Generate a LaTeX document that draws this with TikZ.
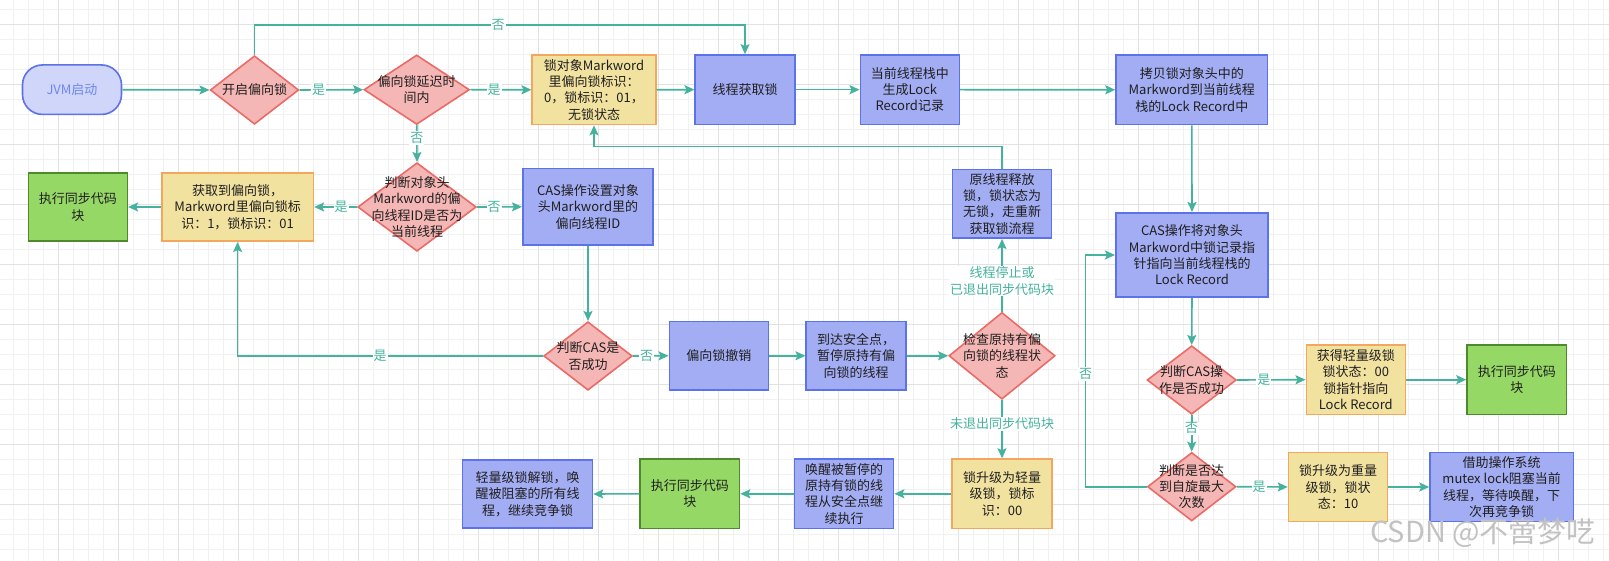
\documentclass[tikz,border=0pt]{standalone}
\usepackage{fontspec}
\newfontfamily\cjk{Noto Sans CJK SC}
\usetikzlibrary{shapes.geometric,arrows.meta}
\definecolor{edgec}{HTML}{45B29D}
\definecolor{dfill}{HTML}{F5B7B5}
\definecolor{dline}{HTML}{EA6B66}
\definecolor{bfill}{HTML}{A3ADF3}
\definecolor{bline}{HTML}{5B72E8}
\definecolor{yfill}{HTML}{F2E2A0}
\definecolor{yline}{HTML}{F2A65E}
\definecolor{gfill}{HTML}{96D865}
\definecolor{gline}{HTML}{4E8A2B}
\definecolor{jfill}{HTML}{D0D6FA}
\definecolor{jtext}{HTML}{6F87EC}
\definecolor{txtc}{HTML}{1F1F1F}
\definecolor{gmin}{HTML}{F1F1F1}
\definecolor{gmaj}{HTML}{E2E2E2}
\definecolor{wmc}{HTML}{C2C2C2}
\tikzset{
  fnt/.style={font=\cjk\fontsize{13}{16.3}\selectfont},
  box/.style={fnt, draw, line width=1.6pt, inner sep=0pt, align=center, text=txtc},
  bluebox/.style={box, fill=bfill, draw=bline},
  yelbox/.style={box, fill=yfill, draw=yline},
  grnbox/.style={box, fill=gfill, draw=gline},
  dia/.style={diamond, draw=dline, fill=dfill, line width=1.6pt, inner sep=0pt},
  dtxt/.style={fnt, align=center, text=txtc, inner sep=0pt},
  lbl/.style={fnt, fill=white, inner sep=1pt, text=edgec, align=center},
  arr/.style={draw=edgec, line width=1.6pt, -{Stealth[length=10pt,width=9pt,inset=2pt]}},
  gridmin/.style={draw=gmin, line width=0.8pt},
  gridmaj/.style={draw=gmaj, line width=0.8pt},
  sz/.style n args={2}{minimum width=#1pt, minimum height=#2pt}
}
\begin{document}
\begin{tikzpicture}[x=1pt,y=-1pt]
\useasboundingbox (0,0) rectangle (1609,561);
\fill[white] (0,0) rectangle (1609,561);
% grid
\foreach \i in {0,...,107} {\draw[gridmin] ({-1.5+15*\i},0) -- ++(0,561);}
\foreach \j in {0,...,37} {\draw[gridmin] (0,{9.3+15*\j}) -- ++(1609,0);}
\foreach \i in {0,...,27} {\draw[gridmaj] ({-1.5+60*\i},0) -- ++(0,561);}
\foreach \j in {0,...,9} {\draw[gridmaj] (0,{24.3+60*\j}) -- ++(1609,0);}

% nodes
\node[box, fill=jfill, draw=bline, text=jtext, rounded corners=20pt, sz={99}{49.5}] (jvm) at (72,89.7) {JVM启动};
\node[dia, sz={88.5}{68.5}] (d1) at (254.5,90) {};
\node[dtxt] (d1t) at (d1) {开启偏向锁};
\node[dia, sz={105.5}{69.5}] (d2) at (416.7,89.7) {};
\node[dtxt] (d2t) at (d2) {偏向锁延迟时\\间内};
\node[yelbox, sz={123.5}{69.5}] (b1) at (594,89.8) {锁对象Markword\\里偏向锁标识：\\0，锁标识：01，\\无锁状态};
\node[bluebox, sz={99.5}{69.5}] (b2) at (745,89.7) {线程获取锁};
\node[bluebox, sz={99}{69.5}] (b3) at (909.8,89.7) {当前线程栈中\\生成Lock\\Record记录};
\node[bluebox, sz={151.5}{69.5}] (b4) at (1191.8,89.8) {拷贝锁对象头中的\\Markword到当前线程\\栈的Lock Record中};

\node[dia, sz={118.5}{88.5}] (d3) at (417,207) {};
\node[dtxt] (d3t) at (d3) {判断对象头\\Markword的偏\\向线程ID是否为\\当前线程};
\node[yelbox, sz={151.5}{68.5}] (b5) at (237.6,207) {获取到偏向锁，\\Markword里偏向锁标\\识：1，锁标识：01};
\node[grnbox, sz={99}{68.5}] (g1) at (77.8,207) {执行同步代码\\块};
\node[bluebox, sz={130.5}{76.5}] (b6) at (588,206.8) {CAS操作设置对象\\头Markword里的\\偏向线程ID};
\node[bluebox, sz={99.2}{68.8}] (b7) at (1002,203.8) {原线程释放\\锁，锁状态为\\无锁，走重新\\获取锁流程};
\node[bluebox, sz={152.5}{84.5}] (b8) at (1192,255) {CAS操作将对象头\\Markword中锁记录指\\针指向当前线程栈的\\Lock Record};

\node[dia, sz={88.5}{68.5}] (d4) at (588,356) {};
\node[dtxt] (d4t) at (d4) {判断CAS是\\否成功};
\node[bluebox, sz={99}{68.5}] (b9) at (718.8,355.8) {偏向锁撤销};
\node[bluebox, sz={99.5}{68.5}] (b10) at (856,355.8) {到达安全点，\\暂停原持有偏\\向锁的线程};
\node[dia, sz={106.2}{86.8}] (d5) at (1002,355.8) {};
\node[dtxt] (d5t) at (d5) {检查原持有偏\\向锁的线程状\\态};

\node[yelbox, sz={99.5}{69.5}] (b11) at (1002,493.8) {锁升级为轻量\\级锁，锁标\\识：00};
\node[bluebox, sz={99.2}{69.5}] (b12) at (844,493.8) {唤醒被暂停的\\原持有锁的线\\程从安全点继\\续执行};
\node[grnbox, sz={99.5}{69.5}] (g2) at (689.8,493.8) {执行同步代码\\块};
\node[bluebox, sz={130}{68.5}] (b13) at (527.5,494) {轻量级锁解锁，唤\\醒被阻塞的所有线\\程，继续竞争锁};

\node[dia, sz={89.2}{68.5}] (d6) at (1191.7,380) {};
\node[dtxt] (d6t) at (d6) {判断CAS操\\作是否成功};
\node[yelbox, sz={99}{69.2}] (b14) at (1355.8,379.7) {获得轻量级锁\\锁状态：00\\锁指针指向\\Lock Record};
\node[grnbox, sz={99.5}{69.2}] (g3) at (1516.8,379.7) {执行同步代码\\块};
\node[dia, sz={88.5}{68.5}] (d7) at (1191.7,486.7) {};
\node[dtxt] (d7t) at (d7) {判断是否达\\到自旋最大\\次数};
\node[yelbox, sz={99}{69.2}] (b15) at (1338,487) {锁升级为重量\\级锁，锁状\\态：10};
\node[bluebox, sz={143.3}{69.1}] (b16) at (1501.7,487) {借助操作系统\\mutex lock阻塞当前\\线程，等待唤醒，下\\次再竞争锁};

% connectors
\draw[arr] (jvm.east) -- (d1.west);
\draw[arr] (d1.east) -- node[lbl,pos=0.30] (l1) {是} (d2.west);
\draw[arr] (d2.east) -- node[lbl,pos=0.39] (l2) {是} (b1.west);
\draw[arr] (d2.south) -- node[lbl,pos=0.35] (l3) {否} (d3.north);
\draw[arr] (d1.north) -- ++(0,-30) -| (b2.north);
\node[lbl] (l4) at (498,25) {否};
\draw[arr] (b1.east) -- (b2.west);
\draw[arr] (b2.east) -- (b3.west);
\draw[arr] (b3.east) -- (b4.west);
\draw[arr] (b4.south) -- (b8.north);
\draw[arr] (b8.south) -- (d6.north);
\draw[arr] (d6.east) -- node[lbl,pos=0.39] (l5) {是} (b14.west);
\draw[arr] (b14.east) -- (g3.west);
\draw[arr] (d6.south) -- node[lbl,pos=0.36] (l6) {否} (d7.north);
\draw[arr] (d7.east) -- node[lbl,pos=0.44] (l7) {是} (b15.west);
\draw[arr] (b15.east) -- (b16.west);
\draw[arr] (d7.west) -- ++(-61,0) |- (b8.west);
\node[lbl] (l8) at (1085.7,374) {否};
\draw[arr] (d3.west) -- node[lbl,pos=0.37] (l9) {是} (b5.east);
\draw[arr] (b5.west) -- (g1.east);
\draw[arr] (d3.east) -- node[lbl,pos=0.38] (l10) {否} (b6.west);
\draw[arr] (b6.south) -- (d4.north);
\draw[arr] (d4.west) -| (b5.south);
\node[lbl] (l11) at (380,356) {是};
\draw[arr] (d4.east) -- node[lbl,pos=0.38] (l12) {否} (b9.west);
\draw[arr] (b9.east) -- (b10.west);
\draw[arr] (b10.east) -- (d5.west);
\draw[arr] (d5.north) -- (b7.south);
\node[lbl] (l13) at (1002,281) {线程停止或\\已退出同步代码块};
\draw[arr] (b7.north) -- ++(0,-22) -| (b1.south);
\draw[arr] (d5.south) -- node[lbl,pos=0.41] (l14) {未退出同步代码块} (b11.north);
\draw[arr] (b11.west) -- (b12.east);
\draw[arr] (b12.west) -- (g2.east);
\draw[arr] (g2.west) -- (b13.east);

% watermark
\node[font=\cjk\fontsize{29}{29}\selectfont, text=wmc, inner sep=0pt] (wm) at (1483,533) {CSDN @不啻梦呓};
\end{tikzpicture}
\end{document}
